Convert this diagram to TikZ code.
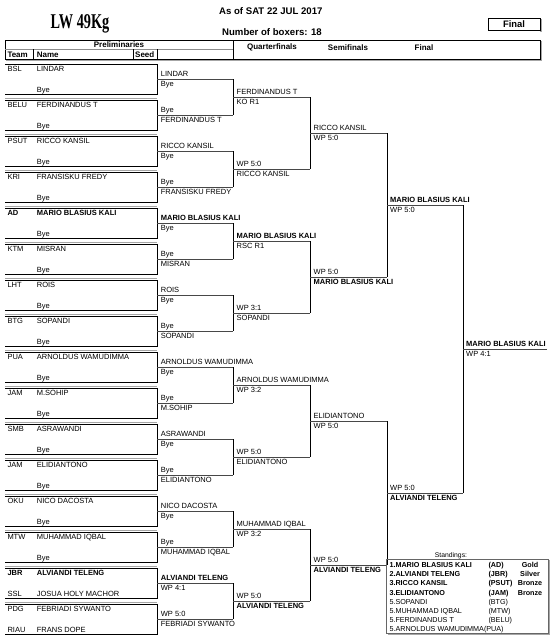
\documentclass[tikz,border=0pt]{standalone}
\usepackage{fontspec}
\setmainfont{Liberation Sans}
\newfontfamily\titlefont{Liberation Serif}
\begin{document}
\begin{tikzpicture}[x=1pt,y=-1pt,
  txt/.style={anchor=base west,inner sep=0pt,font=\fontsize{7.5}{8}\selectfont},
  hdr/.style={inner sep=0pt,font=\bfseries\fontsize{8}{9}\selectfont},
  big/.style={anchor=base west,inner sep=0pt,font=\bfseries\fontsize{9.6}{11}\selectfont},
  stand/.style={anchor=base west,inner sep=0pt,font=\fontsize{7.2}{8}\selectfont},
  hl/.style={draw=black!72,line width=0.9pt},
  vl/.style={draw=black,line width=0.8pt},
  boxl/.style={draw=black,line width=0.8pt},
  shad/.style={draw=black!35,line width=1.3pt}]
\useasboundingbox (0,0) rectangle (550,640);
\fill[white] (0,0) rectangle (550,640);
% ---------- header ----------
\node[anchor=base,inner sep=0pt,font=\titlefont\bfseries\fontsize{21}{23}\selectfont] (title) at (80,28) {\scalebox{0.68}[1]{LW 49Kg}};
\node[big] (asof) at (219,14) {As of SAT 22 JUL 2017};
\node[big] (nbox) at (222,35.7) {Number of boxers: 18};
\draw[shad] (541,19) -- (541,32);
\node[draw=black,line width=0.7pt,minimum width=52pt,minimum height=12.5pt,inner sep=0pt,font=\bfseries\fontsize{9.4}{10}\selectfont] (finalbox) at (514,24.5) {Final};
% header table
\draw[shad] (541.5,41) -- (541.5,60.5) -- (6,60.5);
\draw[boxl] (5,40) rectangle (540,59.3);
\draw[draw=black!45,line width=1pt] (5,49.3) -- (233,49.3);
\draw[boxl] (233,40) -- (233,59.3);
\draw[boxl] (33,49.3) -- (33,59.3);
\draw[boxl] (133,49.3) -- (133,59.3);
\draw[boxl] (157,49.3) -- (157,59.3);
\node[hdr] (hprelim) at (119,44.6) {Preliminaries};
\node[hdr,anchor=base west] (hteam) at (7.3,57) {Team};
\node[hdr,anchor=base west] (hname) at (36.7,57) {Name};
\node[hdr,anchor=base west] (hseed) at (135,57) {Seed};
\node[hdr] (hqf) at (272,47.5) {Quarterfinals};
\node[hdr] (hsf) at (348,47.5) {Semifinals};
\node[hdr] (hf) at (424,47.5) {Final};
% ---------- preliminary boxes ----------
\newcommand{\prelim}[5]{%
  \pgfmathsetmacro\tp{64+36*#1}%
  \ifnum#1>0 \draw[shad] (5,\tp-1.6) -- (157,\tp-1.6);\fi
  \draw[boxl] (5,\tp) -- (157,\tp) -- (157,\tp+30) -- (5,\tp+30);
  \node[txt] (pta#1) at (7.3,\tp+7.7) {#2};
  \node[txt] (pna#1) at (36.7,\tp+7.7) {#3};
  \node[txt] (ptb#1) at (7.3,\tp+28.5) {#4};
  \node[txt] (pnb#1) at (36.7,\tp+28.5) {#5};
}
\prelim{0}{BSL}{LINDAR}{}{Bye}
\prelim{1}{BELU}{FERDINANDUS T}{}{Bye}
\prelim{2}{PSUT}{RICCO KANSIL}{}{Bye}
\prelim{3}{KRI}{FRANSISKU FREDY}{}{Bye}
\prelim{4}{\textbf{AD}}{\textbf{MARIO BLASIUS KALI}}{}{Bye}
\prelim{5}{KTM}{MISRAN}{}{Bye}
\prelim{6}{LHT}{ROIS}{}{Bye}
\prelim{7}{BTG}{SOPANDI}{}{Bye}
\prelim{8}{PUA}{ARNOLDUS WAMUDIMMA}{}{Bye}
\prelim{9}{JAM}{M.SOHIP}{}{Bye}
\prelim{10}{SMB}{ASRAWANDI}{}{Bye}
\prelim{11}{JAM}{ELIDIANTONO}{}{Bye}
\prelim{12}{OKU}{NICO DACOSTA}{}{Bye}
\prelim{13}{MTW}{MUHAMMAD IQBAL}{}{Bye}
\prelim{14}{\textbf{JBR}}{\textbf{ALVIANDI TELENG}}{SSL}{JOSUA HOLY MACHOR}
\prelim{15}{PDG}{FEBRIADI SYWANTO}{RIAU}{FRANS DOPE}
% ---------- bracket lines ----------
\foreach \k in {0,...,15}{
  \pgfmathsetmacro\yy{79+36*\k}
  \coordinate (e\k) at (157,\yy);
  \coordinate (r\k) at (233,\yy);
  \draw[hl] (e\k) -- (r\k);
}
\foreach \p in {0,...,7}{
  \pgfmathtruncatemacro\a{2*\p}
  \pgfmathtruncatemacro\b{2*\p+1}
  \pgfmathsetmacro\yy{97+72*\p}
  \coordinate (s\p) at (233,\yy);
  \coordinate (t\p) at (310,\yy);
  \draw[vl] (r\a) -- (r\b);
  \draw[hl] (s\p) -- (t\p);
}
\foreach \q in {0,...,3}{
  \pgfmathtruncatemacro\a{2*\q}
  \pgfmathtruncatemacro\b{2*\q+1}
  \pgfmathsetmacro\yy{133+144*\q}
  \coordinate (u\q) at (310,\yy);
  \coordinate (v\q) at (387,\yy);
  \draw[vl] (t\a) -- (t\b);
  \draw[hl] (u\q) -- (v\q);
}
\coordinate (w0) at (387,205); \coordinate (x0) at (463,205);
\coordinate (w1) at (387,493); \coordinate (x1) at (463,493);
\draw[vl] (v0) -- (v1);
\draw[vl] (v2) -- (v3);
\draw[hl] (w0) -- (x0);
\draw[hl] (w1) -- (x1);
\draw[vl] (x0) -- (x1);
\coordinate (f0) at (463,349); \coordinate (f1) at (547,349);
\draw[hl] (f0) -- (f1);
% ---------- match labels ----------
\newcommand{\mlab}[5]{%
  \node[txt] (#1a) at (#2,#3-2.5) {#4};
  \node[txt] (#1b) at (#2,#3+7.2) {#5};
}
% round 1
\mlab{ma0}{160.7}{79}{LINDAR}{Bye}
\mlab{ma1}{160.7}{115}{Bye}{FERDINANDUS T}
\mlab{ma2}{160.7}{151}{RICCO KANSIL}{Bye}
\mlab{ma3}{160.7}{187}{Bye}{FRANSISKU FREDY}
\mlab{ma4}{160.7}{223}{\textbf{MARIO BLASIUS KALI}}{Bye}
\mlab{ma5}{160.7}{259}{Bye}{MISRAN}
\mlab{ma6}{160.7}{295}{ROIS}{Bye}
\mlab{ma7}{160.7}{331}{Bye}{SOPANDI}
\mlab{ma8}{160.7}{367}{ARNOLDUS WAMUDIMMA}{Bye}
\mlab{ma9}{160.7}{403}{Bye}{M.SOHIP}
\mlab{ma10}{160.7}{439}{ASRAWANDI}{Bye}
\mlab{ma11}{160.7}{475}{Bye}{ELIDIANTONO}
\mlab{ma12}{160.7}{511}{NICO DACOSTA}{Bye}
\mlab{ma13}{160.7}{547}{Bye}{MUHAMMAD IQBAL}
\mlab{ma14}{160.7}{583}{\textbf{ALVIANDI TELENG}}{WP 4:1}
\mlab{ma15}{160.7}{619}{WP 5:0}{FEBRIADI SYWANTO}
% round 2
\mlab{mb0}{236.5}{97}{FERDINANDUS T}{KO R1}
\mlab{mb1}{236.5}{169}{WP 5:0}{RICCO KANSIL}
\mlab{mb2}{236.5}{241}{\textbf{MARIO BLASIUS KALI}}{RSC R1}
\mlab{mb3}{236.5}{313}{WP 3:1}{SOPANDI}
\mlab{mb4}{236.5}{385}{ARNOLDUS WAMUDIMMA}{WP 3:2}
\mlab{mb5}{236.5}{457}{WP 5:0}{ELIDIANTONO}
\mlab{mb6}{236.5}{529}{MUHAMMAD IQBAL}{WP 3:2}
\mlab{mb7}{236.5}{601}{WP 5:0}{\textbf{ALVIANDI TELENG}}
% round 3
\mlab{mc0}{313.5}{133}{RICCO KANSIL}{WP 5:0}
\mlab{mc1}{313.5}{277}{WP 5:0}{\textbf{MARIO BLASIUS KALI}}
\mlab{mc2}{313.5}{421}{ELIDIANTONO}{WP 5:0}
\mlab{mc3}{313.5}{565}{WP 5:0}{\textbf{ALVIANDI TELENG}}
% round 4
\mlab{md0}{390}{205}{\textbf{MARIO BLASIUS KALI}}{WP 5:0}
\mlab{md1}{390}{493}{WP 5:0}{\textbf{ALVIANDI TELENG}}
% final
\mlab{me0}{466}{349}{\textbf{MARIO BLASIUS KALI}}{WP 4:1}
% ---------- standings ----------
\node[anchor=base,inner sep=0pt,font=\fontsize{6.8}{7}\selectfont] (sttitle) at (451,557) {Standings:};
\draw[shad,line width=1pt] (549,560) -- (549,634) -- (388,634);
\draw[draw=black!60,line width=0.6pt] (386.7,559) rectangle (548,633);
\newcommand{\strow}[4]{%
  \pgfmathsetmacro\yy{567.5+9.2*#1}%
  \node[stand] (sn#1) at (389.3,\yy) {#2};
  \node[stand] (st#1) at (488.3,\yy) {#3};
  \node[stand,anchor=base] (sm#1) at (530,\yy) {#4};
}
\strow{0}{\textbf{1.MARIO BLASIUS KALI}}{\textbf{(AD)}}{\textbf{Gold}}
\strow{1}{\textbf{2.ALVIANDI TELENG}}{\textbf{(JBR)}}{\textbf{Silver}}
\strow{2}{\textbf{3.RICCO KANSIL}}{\textbf{(PSUT)}}{\textbf{Bronze}}
\strow{3}{\textbf{3.ELIDIANTONO}}{\textbf{(JAM)}}{\textbf{Bronze}}
\strow{4}{5.SOPANDI}{(BTG)}{}
\strow{5}{5.MUHAMMAD IQBAL}{(MTW)}{}
\strow{6}{5.FERDINANDUS T}{(BELU)}{}
\node[stand] (sn7) at (389.3,631.9) {5.ARNOLDUS WAMUDIMMA(PUA)};
\end{tikzpicture}
\end{document}
